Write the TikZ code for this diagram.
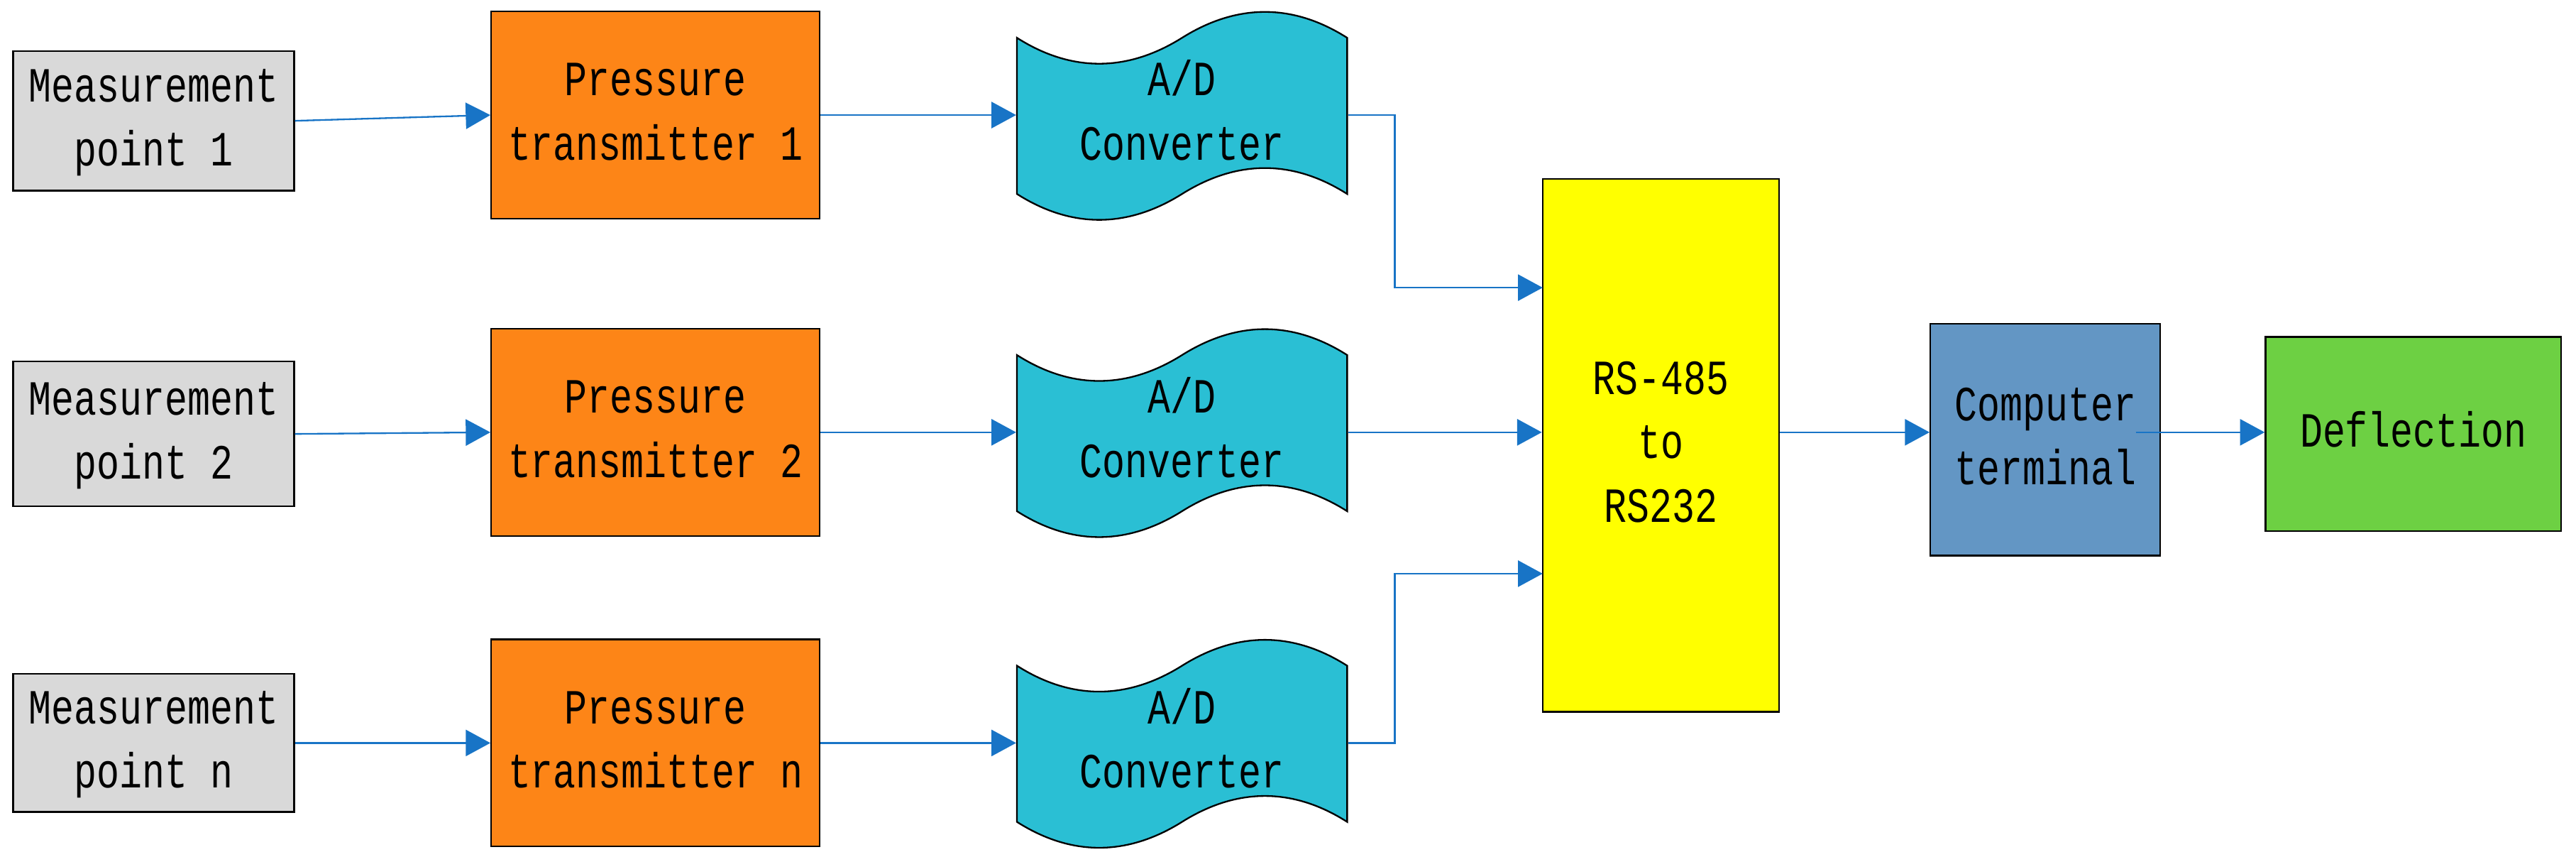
\documentclass[tikz,border=0pt]{standalone}
\usepackage{fontspec}
\setmainfont{Liberation Mono}
\usetikzlibrary{arrows.meta}
\definecolor{cgray}{HTML}{D9D9D9}
\definecolor{corange}{HTML}{FD8517}
\definecolor{ccyan}{HTML}{2ABFD4}
\definecolor{cyel}{HTML}{FFFF00}
\definecolor{csteel}{HTML}{6396C4}
\definecolor{cgreen}{HTML}{6DD043}
\definecolor{cblue}{HTML}{1874C6}
\newcommand\tx[1]{\scalebox{1}[1.3]{\begin{tabular}{@{}c@{}}#1\end{tabular}}}
\begin{document}
\begin{tikzpicture}[x=1pt,y=1pt,
  box/.style={draw=black,line width=1pt,inner sep=0pt,font=\fontsize{23}{30}\selectfont},
  conn/.style={draw=cblue,line width=1pt,-{Triangle[length=15pt,width=16pt]}},
  line/.style={draw=cblue,line width=1pt}]
\useasboundingbox (0,0) rectangle (1568,-521);
% measurement points
\node[box,fill=cgray,minimum width=171,minimum height=85] (m1) at (93.5,-73.5) {\tx{Measurement\\point 1}};
\node[box,fill=cgray,minimum width=171,minimum height=88] (m2) at (93.5,-264) {\tx{Measurement\\point 2}};
\node[box,fill=cgray,minimum width=171,minimum height=84] (m3) at (93.5,-452) {\tx{Measurement\\point n}};
% pressure transmitters
\node[box,fill=corange,minimum width=200,minimum height=126] (p1) at (399,-70) {\tx{Pressure\\transmitter 1}};
\node[box,fill=corange,minimum width=200,minimum height=126] (p2) at (399,-263) {\tx{Pressure\\transmitter 2}};
\node[box,fill=corange,minimum width=200,minimum height=126] (p3) at (399,-452) {\tx{Pressure\\transmitter n}};
% A/D converter shapes
\foreach \dy in {0,193,382}{
  \begin{scope}[yshift=-\dy pt]
  \path[draw=black,line width=1pt,fill=ccyan]
    (619,-23) .. controls (652,-44) and (686,-44) .. (719.5,-23)
    .. controls (753,-2) and (787,-2) .. (820,-23)
    -- (820,-118) .. controls (787,-97) and (753,-97) .. (719.5,-118)
    .. controls (686,-139) and (652,-139) .. (619,-118) -- cycle;
  \end{scope}}
\node[box,draw=none,minimum width=201,minimum height=95] (a1) at (719.5,-70) {\tx{A/D\\Converter}};
\node[box,draw=none,minimum width=201,minimum height=95] (a2) at (719.5,-263) {\tx{A/D\\Converter}};
\node[box,draw=none,minimum width=201,minimum height=95] (a3) at (719.5,-452) {\tx{A/D\\Converter}};
% right part
\node[box,fill=cyel,minimum width=144,minimum height=324] (rs) at (1011,-271) {\tx{RS-485\\to\\RS232}};
\node[box,fill=csteel,minimum width=140,minimum height=141] (pc) at (1245,-267.5) {\tx{Computer\\terminal}};
\node[box,fill=cgreen,minimum width=180,minimum height=118] (df) at (1469,-264) {\tx{Deflection}};
\coordinate (r1) at (939,-175);
\coordinate (r3) at (939,-349);
\coordinate (k1) at (849,-70);
\coordinate (k3) at (849,-452);
\coordinate (pcs) at (1300,-263);
% connectors
\draw[conn] (m1.east) -- (p1.west);
\draw[conn] (m2.east) -- (p2.west);
\draw[conn] (m3.east) -- (p3.west);
\draw[conn] (p1.east) -- (a1.west);
\draw[conn] (p2.east) -- (a2.west);
\draw[conn] (p3.east) -- (a3.west);
\draw[conn] (a1.east) -- (k1) |- (r1);
\draw[conn] (a2.east) -- (rs.west |- a2.east);
\draw[conn] (a3.east) -- (k3) |- (r3);
\draw[conn] (rs.east |- pcs) -- (pc.west |- pcs);
\draw[conn] (pcs) -- (df.west |- pcs);
\end{tikzpicture}
\end{document}
